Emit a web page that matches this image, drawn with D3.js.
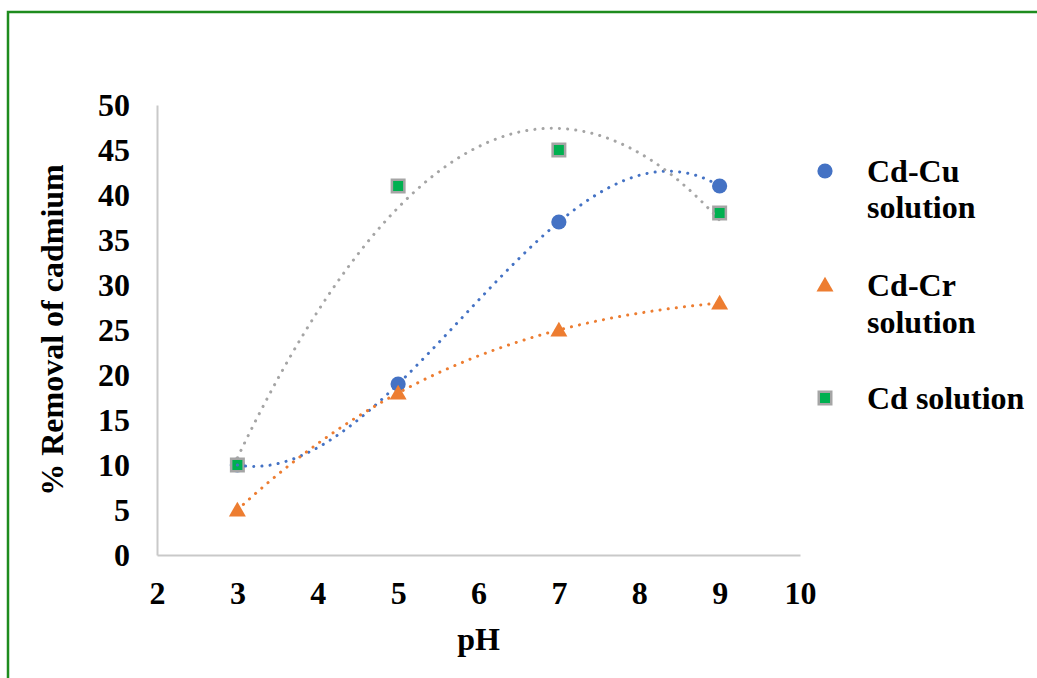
<!DOCTYPE html>
<html>
<head>
<meta charset="utf-8">
<script src="https://cdn.jsdelivr.net/npm/d3@7"></script>
<style>
  html, body { margin: 0; padding: 0; background: #fff; }
  svg { display: block; }
  text { font-family: "Liberation Serif", "Times New Roman", serif; font-weight: bold; fill: #000; }
</style>
</head>
<body>
<svg id="chart" width="1037" height="678"></svg>
<script>
// pH values at which removal was measured
const phValues = [3, 5, 7, 9];
// % removal of cadmium for each solution
const cdCu = [10, 19, 37, 41];
const cdCr = [5, 18, 25, 28];
const cdOnly = [10, 41, 45, 38];

const seriesNames = ["Cd-Cu solution", "Cd-Cr solution", "Cd solution"];
const legendLines = [["Cd-Cu", "solution"], ["Cd-Cr", "solution"], ["Cd solution"]];
// polynomial trendline order per series
const trendOrders = [3, 3, 2];

const xTicks = [2, 3, 4, 5, 6, 7, 8, 9, 10];
const yTicks = [0, 5, 10, 15, 20, 25, 30, 35, 40, 45, 50];

const colors = {
  blue: "#4472C4",
  orange: "#ED7D31",
  gray: "#A5A5A5",
  green: "#00B050"
};

const FONT = 32;
const svg = d3.select("#chart");

// outer frame
svg.append("rect")
  .attr("x", 8).attr("y", 12)
  .attr("width", 1060).attr("height", 700)
  .attr("fill", "none")
  .attr("stroke", "#1E8C1E")
  .attr("stroke-width", 2.5);

const x = d3.scaleLinear().domain([2, 10]).range([157, 800]);
const y = d3.scaleLinear().domain([0, 50]).range([555, 105]);

// axes: plain light-grey lines, no tick marks
const xAxis = d3.axisBottom(x).tickValues(xTicks).tickSize(0).tickPadding(26).tickFormat(d3.format("d"));
const yAxis = d3.axisLeft(y).tickValues(yTicks).tickSize(0).tickPadding(27).tickFormat(d3.format("d"));

const gx = svg.append("g").attr("transform", `translate(0,${y(0)})`).call(xAxis);
const gy = svg.append("g").attr("transform", `translate(${x(2)},0)`).call(yAxis);

[gx, gy].forEach(g => {
  g.select(".domain").attr("stroke", "#C9C9C9").attr("stroke-width", 2);
  g.selectAll("text")
    .attr("font-family", "'Liberation Serif', 'Times New Roman', serif")
    .attr("font-weight", "bold")
    .attr("font-size", FONT)
    .attr("fill", "#000");
});
gx.selectAll("text").attr("dy", "0.71em");
gy.selectAll("text").attr("dy", "0.34em");

// axis titles
svg.append("text")
  .attr("x", (x(2) + x(10)) / 2)
  .attr("y", 650)
  .attr("text-anchor", "middle")
  .attr("font-size", FONT)
  .text("pH");

svg.append("text")
  .attr("transform", `translate(63,${(y(0) + y(50)) / 2}) rotate(-90)`)
  .attr("text-anchor", "middle")
  .attr("font-size", FONT)
  .text("% Removal of cadmium");

// least-squares polynomial fit, solved with Gaussian elimination
function polyFit(xs, ys, order) {
  const n = order + 1;
  const A = Array.from({length: n}, () => new Array(n + 1).fill(0));
  for (let r = 0; r < n; r++) {
    for (let c = 0; c < n; c++) {
      A[r][c] = d3.sum(xs, xv => Math.pow(xv, r + c));
    }
    A[r][n] = d3.sum(xs.map((xv, i) => Math.pow(xv, r) * ys[i]));
  }
  for (let i = 0; i < n; i++) {
    let p = i;
    for (let k = i + 1; k < n; k++) if (Math.abs(A[k][i]) > Math.abs(A[p][i])) p = k;
    [A[i], A[p]] = [A[p], A[i]];
    for (let k = i + 1; k < n; k++) {
      const f = A[k][i] / A[i][i];
      for (let j = i; j <= n; j++) A[k][j] -= f * A[i][j];
    }
  }
  const coef = new Array(n).fill(0);
  for (let i = n - 1; i >= 0; i--) {
    let s = A[i][n];
    for (let j = i + 1; j < n; j++) s -= A[i][j] * coef[j];
    coef[i] = s / A[i][i];
  }
  return xv => coef.reduce((acc, c, k) => acc + c * Math.pow(xv, k), 0);
}

const series = [
  {values: cdCu, line: colors.blue, order: trendOrders[0], shape: "circle"},
  {values: cdCr, line: colors.orange, order: trendOrders[1], shape: "triangle"},
  {values: cdOnly, line: colors.gray, order: trendOrders[2], shape: "square"}
];

const symbolFor = {
  circle: d3.symbol().type(d3.symbolCircle).size(Math.PI * 7.6 * 7.6),
  triangle: d3.symbol().type(d3.symbolTriangle).size(125),
  square: d3.symbol().type(d3.symbolSquare).size(12.5 * 12.5)
};

function drawMarker(g, shape, cx, cy) {
  const p = g.append("path")
    .attr("d", symbolFor[shape]())
    .attr("transform", `translate(${cx},${cy})`);
  if (shape === "circle") p.attr("fill", colors.blue);
  else if (shape === "triangle") p.attr("fill", colors.orange);
  else p.attr("fill", colors.green).attr("stroke", colors.gray).attr("stroke-width", 2.5);
  return p;
}

// markers
const markers = svg.append("g");
series.forEach(s => {
  s.values.forEach((v, i) => {
    const cy = s.shape === "triangle" ? y(v) + 1.5 : y(v);
    drawMarker(markers, s.shape, x(phValues[i]), cy);
  });
});

// dotted polynomial trendlines
const lineGen = d3.line().x(d => x(d[0])).y(d => y(d[1]));
const trends = svg.append("g");
series.forEach(s => {
  const f = polyFit(phValues, s.values, s.order);
  const pts = d3.range(3, 9.0001, 0.02).map(t => [t, f(t)]);
  trends.append("path")
    .attr("d", lineGen(pts))
    .attr("fill", "none")
    .attr("stroke", s.line)
    .attr("stroke-width", 3)
    .attr("stroke-linecap", "round")
    .attr("stroke-dasharray", "0.1 8.1");
});

// legend
const legend = svg.append("g");
const legendY = [171, 285, 398];
const legendBase = [[182, 218], [296, 333], [409]];
series.forEach((s, i) => {
  drawMarker(legend, s.shape, 825, s.shape === "triangle" ? legendY[i] + 1.5 : legendY[i]);
  legendLines[i].forEach((line, j) => {
    legend.append("text")
      .attr("x", 867)
      .attr("y", legendBase[i][j])
      .attr("font-size", FONT)
      .text(line);
  });
});
</script>
</body>
</html>
